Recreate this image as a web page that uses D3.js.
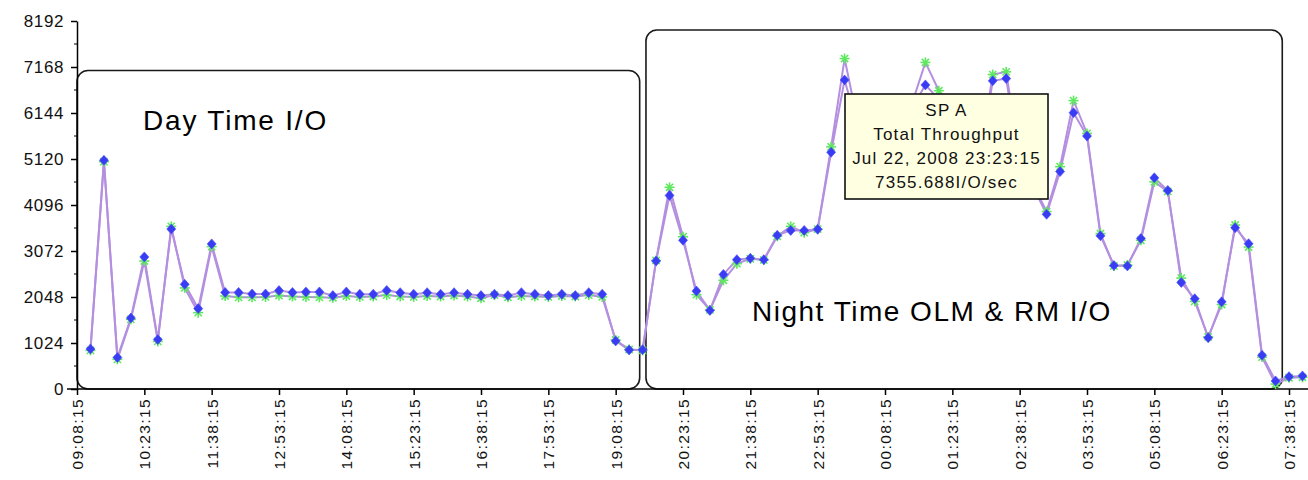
<!DOCTYPE html>
<html>
<head>
<meta charset="utf-8">
<script src="https://cdn.jsdelivr.net/npm/d3@7"></script>
<style>
    body { margin: 0; background: #fff; }
    svg { display: block; font-family: "Liberation Sans", Arial, sans-serif; }
</style>
</head>
<body>
<div id="plot"></div>
<script>
const START_TIME = "2008-07-22T09:08:15";
const STEP_MINUTES = 15;

// x tick labels (every 75 minutes)
const tick_labels = ["09:08:15", "10:23:15", "11:38:15", "12:53:15", "14:08:15", "15:23:15",
    "16:38:15", "17:53:15", "19:08:15", "20:23:15", "21:38:15", "22:53:15", "00:08:15",
    "01:23:15", "02:38:15", "03:53:15", "05:08:15", "06:23:15", "07:38:15"];

const y_ticks = [0, 1024, 2048, 3072, 4096, 5120, 6144, 7168, 8192];

// SP A series, blue diamonds (first sample at 09:23:15)
const blue_values = [890, 5090, 700, 1580, 2940, 1100, 3560, 2330, 1790, 3230,
    2150, 2150, 2115, 2115, 2190, 2150, 2160, 2160, 2080, 2160,
    2110, 2110, 2195, 2145, 2110, 2145, 2110, 2145, 2110, 2080,
    2110, 2080, 2145, 2110, 2080, 2110, 2080, 2145, 2110, 1070,
    870, 875, 2850, 4310, 3310, 2180, 1750, 2550, 2880, 2910,
    2880, 3420, 3530, 3530, 3555, 5270, 6880, 5800, 5400, 5550,
    5900, 6250, 6770, 6450, 6000, 5600, 5000, 6860, 6910, 5000,
    4500, 3890, 4840, 6150, 5630, 3410, 2750, 2740, 3350, 4700,
    4420, 2370, 2010, 1140, 1940, 3590, 3235, 750, 180, 275, 290];

// second series, green asterisks
const green_values = [860, 5060, 660, 1550, 2850, 1060, 3620, 2250, 1700, 3170,
    2070, 2040, 2040, 2050, 2080, 2060, 2050, 2040, 2030, 2070,
    2050, 2060, 2090, 2060, 2050, 2070, 2060, 2080, 2060, 2020,
    2090, 2040, 2070, 2060, 2050, 2070, 2060, 2090, 2050, 1090,
    880, 860, 2860, 4490, 3390, 2100, 1760, 2420, 2790, 2900,
    2870, 3400, 3620, 3480, 3560, 5390, 7356, 5900, 5500, 5600,
    6000, 6350, 7270, 6640, 6100, 5650, 5100, 7000, 7060, 5100,
    4550, 3950, 4950, 6420, 5690, 3460, 2740, 2760, 3310, 4610,
    4400, 2470, 1950, 1160, 1880, 3650, 3160, 710, 110, 250, 260];

// annotation regions: [start time, end time, top value]
const day_box = ["2008-07-22T09:08:15", "2008-07-22T19:35:00", 7090];
const night_box = ["2008-07-22T19:42:00", "2008-07-23T07:30:45", 7990];
const day_label = "Day Time I/O";
const night_label = "Night Time OLM & RM I/O";
const tooltip_lines = ["SP A", "Total Throughput", "Jul 22, 2008 23:23:15", "7355.688I/O/sec"];

const width = 1308, height = 480;
const parse_time = d3.timeParse("%Y-%m-%dT%H:%M:%S");
const t0 = parse_time(START_TIME);
const time_at = i => d3.timeMinute.offset(t0, i * STEP_MINUTES);

const tick_dates = tick_labels.map((l, i) => time_at(i * 5));

let x = d3.scaleTime()
    .domain([tick_dates[0], tick_dates[tick_dates.length - 1]])
    .range([77, 1289]);
let y = d3.scaleLinear().domain([0, 8192]).range([389, 21]);

let svg = d3.select("#plot").append("svg")
    .attr("width", width)
    .attr("height", height);

svg.append("rect").attr("width", width).attr("height", height).attr("fill", "#fff");

const build_points = values => values.map((v, i) => ({ t: time_at(i + 1), v: v }));
let blue_pts = build_points(blue_values);
let green_pts = build_points(green_values);

//Rounded annotation boxes
const draw_box = function (b) {
    let x0 = x(parse_time(b[0])), x1 = x(parse_time(b[1]));
    let y0 = y(b[2]), y1 = y(0);
    svg.append("rect")
        .attr("x", x0).attr("y", y0)
        .attr("width", x1 - x0).attr("height", y1 - y0)
        .attr("rx", 11).attr("ry", 11)
        .attr("fill", "none")
        .attr("stroke", "#1a1a1a")
        .attr("stroke-width", 1.6);
}
draw_box(day_box);
draw_box(night_box);

// y axis
let y_axis = svg.append("g")
    .attr("transform", `translate(${x.range()[0]},0)`)
    .call(d3.axisLeft(y).tickValues(y_ticks).tickFormat(d3.format("d"))
        .tickSize(6).tickPadding(7).tickSizeOuter(0));
y_axis.attr("font-size", null).attr("font-family", null);
y_axis.selectAll("text")
    .style("font-size", "17px")
    .attr("letter-spacing", "0.6px")
    .attr("fill", "#111");
let minor = d3.range(512, 8192, 1024);
y_axis.selectAll(".minor").data(minor).enter().append("line")
    .attr("class", "minor")
    .attr("x1", -3).attr("x2", 0)
    .attr("y1", d => y(d)).attr("y2", d => y(d))
    .attr("stroke", "#000");

// x axis
let x_axis = svg.append("g")
    .attr("transform", `translate(0,${y(0)})`)
    .call(d3.axisBottom(x).tickValues(tick_dates).tickSize(6).tickSizeOuter(0)
        .tickFormat((d, i) => tick_labels[i]));
x_axis.attr("font-size", null).attr("font-family", null);
x_axis.select(".domain").attr("d", `M${x.range()[0] - 10},0H${width}`);
x_axis.selectAll("text")
    .style("font-size", "15.5px")
    .attr("letter-spacing", "1.4px")
    .attr("fill", "#111")
    .attr("text-anchor", "end")
    .attr("transform", "translate(0,9) rotate(-90)")
    .attr("x", 0).attr("y", 0).attr("dy", "0.36em");
svg.selectAll(".domain, .tick line").attr("stroke", "#000").attr("stroke-width", 1.5);

// lines
let line = d3.line().x(d => x(d.t)).y(d => y(d.v));
[green_pts, blue_pts].forEach(pts => {
    svg.append("path")
        .datum(pts)
        .attr("d", line)
        .attr("fill", "none")
        .attr("stroke", "#b48fe0")
        .attr("stroke-width", 2);
});

// green asterisks
let star = svg.append("g").selectAll("g").data(green_pts).enter().append("g")
    .attr("transform", d => `translate(${x(d.t)},${y(d.v)})`)
    .attr("stroke", "#5ee85e")
    .attr("stroke-width", 1.6);
[[0, -5, 0, 5], [-5, 0, 5, 0], [-3.6, -3.6, 3.6, 3.6], [-3.6, 3.6, 3.6, -3.6]].forEach(s => {
    star.append("line").attr("x1", s[0]).attr("y1", s[1]).attr("x2", s[2]).attr("y2", s[3]);
});

// blue diamonds
svg.append("g").selectAll("path").data(blue_pts).enter().append("path")
    .attr("transform", d => `translate(${x(d.t)},${y(d.v)})`)
    .attr("d", "M0,-5L4.5,0L0,5L-4.5,0Z")
    .attr("fill", "#3a3cf4")
    .attr("stroke", "#4a4cff")
    .attr("stroke-width", 0.6);

// region labels
svg.append("text")
    .attr("x", 143).attr("y", 130)
    .attr("font-size", 28).attr("letter-spacing", "1.8px")
    .attr("fill", "#000")
    .text(day_label);
svg.append("text")
    .attr("x", 752).attr("y", 321)
    .attr("font-size", 28).attr("letter-spacing", "1.5px")
    .attr("fill", "#000")
    .text(night_label);

// tooltip
let tip = svg.append("g").attr("transform", "translate(845,94)");
tip.append("rect")
    .attr("width", 203).attr("height", 105)
    .attr("fill", "#ffffe1")
    .attr("stroke", "#111")
    .attr("stroke-width", 1.6);
tip.selectAll("text").data(tooltip_lines).enter().append("text")
    .attr("x", 101.5)
    .attr("y", (d, i) => 22 + i * 24)
    .attr("text-anchor", "middle")
    .attr("font-size", 17).attr("letter-spacing", "1.2px")
    .attr("fill", "#111")
    .text(d => d);
</script>
</body>
</html>
